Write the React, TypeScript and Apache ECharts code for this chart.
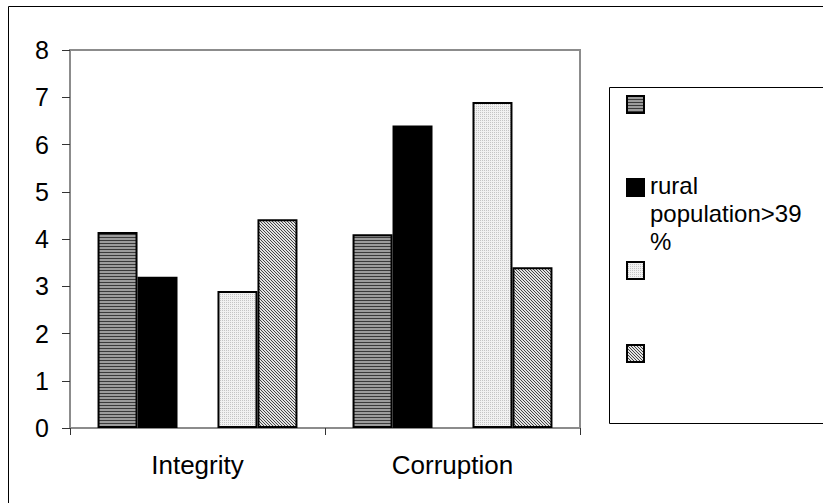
import React, { useEffect, useRef } from "react";
import * as echarts from "echarts";

// Categories and bar values (five series; the third one is empty and only reserves its slot)
const categories = ["Integrity", "Corruption"];
const seriesNames = ["", "rural population>39 %", "", "", ""];
const legendLabels = [[], ["rural", "population>39", "%"], [], []];
const horizontalStripeValues = [4.15, 4.1];
const ruralValues = [3.2, 6.4];
const emptyValues: (number | null)[] = [null, null];
const lightDottedValues = [2.9, 6.9];
const diagonalHatchValues = [4.42, 3.4];
const yMin = 0;
const yMax = 8;
const yStep = 1;

const FONT = "'Liberation Sans', Arial, sans-serif";

// Build a small repeating tile as a data URL for pattern fills
function makeTile(size: number, paint: (x: number, y: number) => string) {
  const c = document.createElement("canvas");
  c.width = size;
  c.height = size;
  const ctx = c.getContext("2d")!;
  for (let y = 0; y < size; y++) {
    for (let x = 0; x < size; x++) {
      ctx.fillStyle = paint(x, y);
      ctx.fillRect(x, y, 1, 1);
    }
  }
  return { image: c.toDataURL(), repeat: "repeat", imageWidth: size, imageHeight: size } as any;
}

export default function App() {
  const ref = useRef<HTMLDivElement>(null);

  useEffect(() => {
    if (!ref.current) return;
    const chart = echarts.init(ref.current, undefined, { renderer: "svg" });

    const stripes = makeTile(3, (_x, y) => (y === 0 ? "#3a3a3a" : "#9c9c9c"));
    const dotted = makeTile(2, (x, y) => (x === 0 && y === 0 ? "#c4c4c4" : "#f1f1f1"));
    const hatch = makeTile(3, (x, y) => ((x - y + 3) % 3 === 0 ? "#444444" : "#e2e2e2"));
    const fills = [stripes, "#000000", "#ffffff", dotted, hatch];
    const values = [horizontalStripeValues, ruralValues, emptyValues, lightDottedValues, diagonalHatchValues];

    // Legend: swatch plus wrapped label lines, one text element per line
    const legendFills = [stripes, "#000000", dotted, hatch];
    const legendTops = [96, 179, 262, 345];
    const lineStep = 28;
    const legendGraphics: any[] = [];
    legendFills.forEach((f, i) => {
      legendGraphics.push({
        type: "rect",
        shape: { x: 627, y: legendTops[i], width: 17, height: 17 },
        style: { fill: f, stroke: "#000", lineWidth: 2 },
        silent: true,
      });
      legendLabels[i].forEach((line, j) => {
        legendGraphics.push({
          type: "text",
          x: 650,
          y: legendTops[i] + 18 + j * lineStep,
          style: {
            text: line,
            font: `24px ${FONT}`,
            fill: "#000",
            verticalAlign: "bottom",
            align: "left",
          },
          silent: true,
        });
      });
    });

    chart.setOption({
      animation: false,
      backgroundColor: "#ffffff",
      grid: {
        left: 70,
        right: 243,
        top: 50,
        bottom: 75,
        show: true,
        borderColor: "#8c8c8c",
        borderWidth: 2,
        backgroundColor: "transparent",
      },
      xAxis: {
        type: "category",
        data: categories,
        axisLine: { lineStyle: { color: "#8c8c8c", width: 2 } },
        axisTick: { show: true, length: 7, lineStyle: { color: "#333" } },
        axisLabel: { color: "#000", fontSize: 26, fontFamily: FONT, margin: 24 },
        splitLine: { show: false },
      },
      yAxis: {
        type: "value",
        min: yMin,
        max: yMax,
        interval: yStep,
        axisLine: { show: true, lineStyle: { color: "#8c8c8c", width: 2 } },
        axisTick: { show: true, length: 8, lineStyle: { color: "#333" } },
        axisLabel: { color: "#000", fontSize: 25, fontFamily: FONT, margin: 21 },
        splitLine: { show: false },
      },
      series: values.map((d, i) => ({
        type: "bar",
        name: seriesNames[i],
        data: d,
        barGap: "0%",
        barCategoryGap: "21.6%",
        itemStyle: { color: fills[i], borderColor: "#000", borderWidth: 2 },
      })),
      graphic: [
        {
          type: "rect",
          shape: { x: 8.5, y: 6.5, width: 900, height: 600 },
          style: { fill: "none", stroke: "#000", lineWidth: 1 },
          silent: true,
        },
        {
          type: "rect",
          shape: { x: 609.5, y: 87.5, width: 300, height: 336 },
          style: { fill: "none", stroke: "#000", lineWidth: 1 },
          silent: true,
        },
        ...legendGraphics,
      ],
    });

    return () => chart.dispose();
  }, []);

  return (
    <div
      ref={ref}
      style={{ position: "fixed", left: 0, top: 0, width: 823, height: 503, background: "#fff" }}
    />
  );
}
